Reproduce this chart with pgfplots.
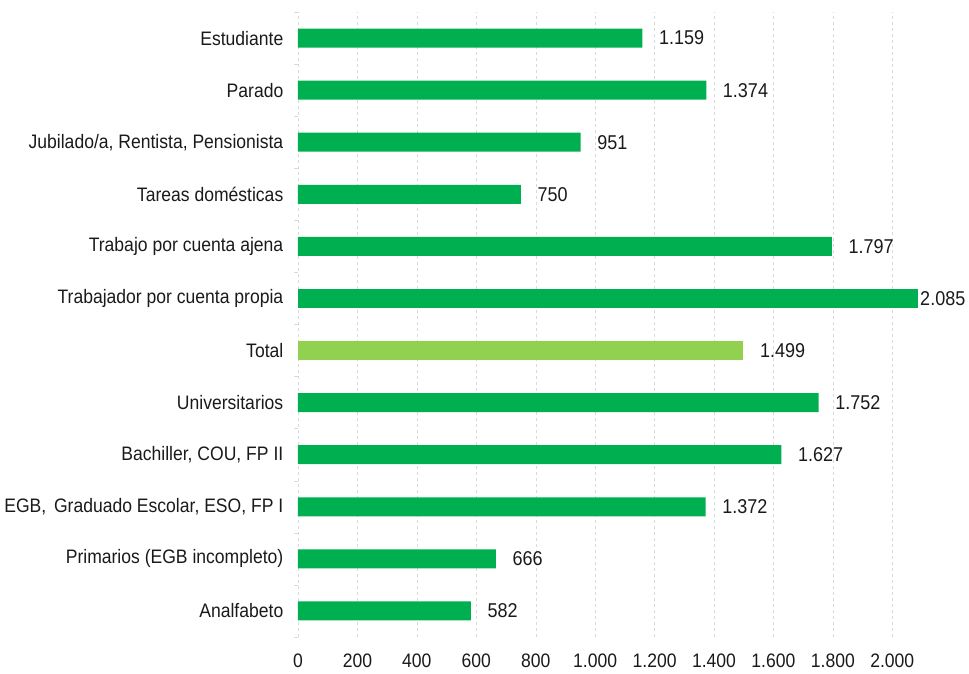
\documentclass[border=0pt]{standalone}
\usepackage{pgfplots}
\pgfplotsset{compat=1.18}
\usepackage{fontspec}
\setmainfont[FakeStretch=0.9]{Liberation Sans}
\definecolor{barg}{HTML}{00B050}
\definecolor{barl}{HTML}{92D050}
\definecolor{gridc}{HTML}{D9D9D9}
\definecolor{txt}{HTML}{1A1A1A}
\begin{document}
\fontsize{19.5pt}{23pt}\selectfont
\begin{tikzpicture}
\begin{axis}[
  scale only axis,
  width=624pt, height=625pt,
  xmin=0, xmax=2100, ymin=0, ymax=1,
  xtick={0,200,...,2000},
  axis x line*=bottom, axis y line=none,
  x axis line style={draw=none},
  major tick length=0pt,
  xmajorgrids,
  grid style={draw=gridc, dashed, thin},
  xticklabel style={font=\fontsize{19.5pt}{23pt}\selectfont, text=txt, yshift=-10pt},
  /pgf/number format/.cd, 1000 sep={.}, assume math mode=true,
]
\addplot[draw=none] coordinates {(0,0)};
\end{axis}
\begin{axis}[
  name=ax,
  scale only axis,
  width=624pt, height=625pt,
  xmin=0, xmax=2100,
  ymin=-0.5, ymax=11.5,
  ytick={0,...,11},
  yticklabels={Analfabeto,Primarios (EGB incompleto),{EGB,\hspace{0.4em}Graduado Escolar, ESO, FP I},{Bachiller, COU, FP II},Universitarios,Total,Trabajador por cuenta propia,Trabajo por cuenta ajena,Tareas domésticas,{Jubilado/a, Rentista, Pensionista},Parado,Estudiante},
  extra y ticks={-0.5,0.5,...,11.5},
  extra y tick labels={},
  extra y tick style={major tick length=4pt, tick align=outside, tick style={gridc, thin}, grid=none},
  major tick length=0pt,
  axis x line=none,
  axis y line*=left,
  y axis line style={draw=gridc, dashed, -},
  tick label style={font=\fontsize{19.5pt}{23pt}\selectfont, text=txt},
  yticklabel style={xshift=-8pt},
  /pgf/number format/.cd, 1000 sep={.}, assume math mode=true,
  /pgfplots/.cd,
  clip=false,
]
\addplot[xbar, bar width=19pt, bar shift=0pt, fill=barg, draw=none,
  nodes near coords, nodes near coords align={horizontal},
  every node near coord/.append style={font=\fontsize{20pt}{23pt}\selectfont, text=txt, anchor=west, xshift=10pt}]
  coordinates {(582,0) (666,1) (1372,2) (1627,3) (1752,4) (1797,7) (750,8) (951,9) (1374,10) (1159,11)};
\addplot[xbar, bar width=19pt, bar shift=0pt, fill=barl, draw=none,
  nodes near coords, nodes near coords align={horizontal},
  every node near coord/.append style={font=\fontsize{20pt}{23pt}\selectfont, text=txt, anchor=west, xshift=10pt}]
  coordinates {(1499,5)};
\addplot[xbar, bar width=19pt, bar shift=0pt, fill=barg, draw=none,
  nodes near coords, nodes near coords align={horizontal},
  every node near coord/.append style={font=\fontsize{20pt}{23pt}\selectfont, text=txt, anchor=west, xshift=-4pt}]
  coordinates {(2085,6)};
\end{axis}
\pgfresetboundingbox
\path[use as bounding box] ([xshift=-298pt,yshift=-36pt]ax.south west) rectangle ([xshift=47pt,yshift=12pt]ax.north east);
\end{tikzpicture}
\end{document}
